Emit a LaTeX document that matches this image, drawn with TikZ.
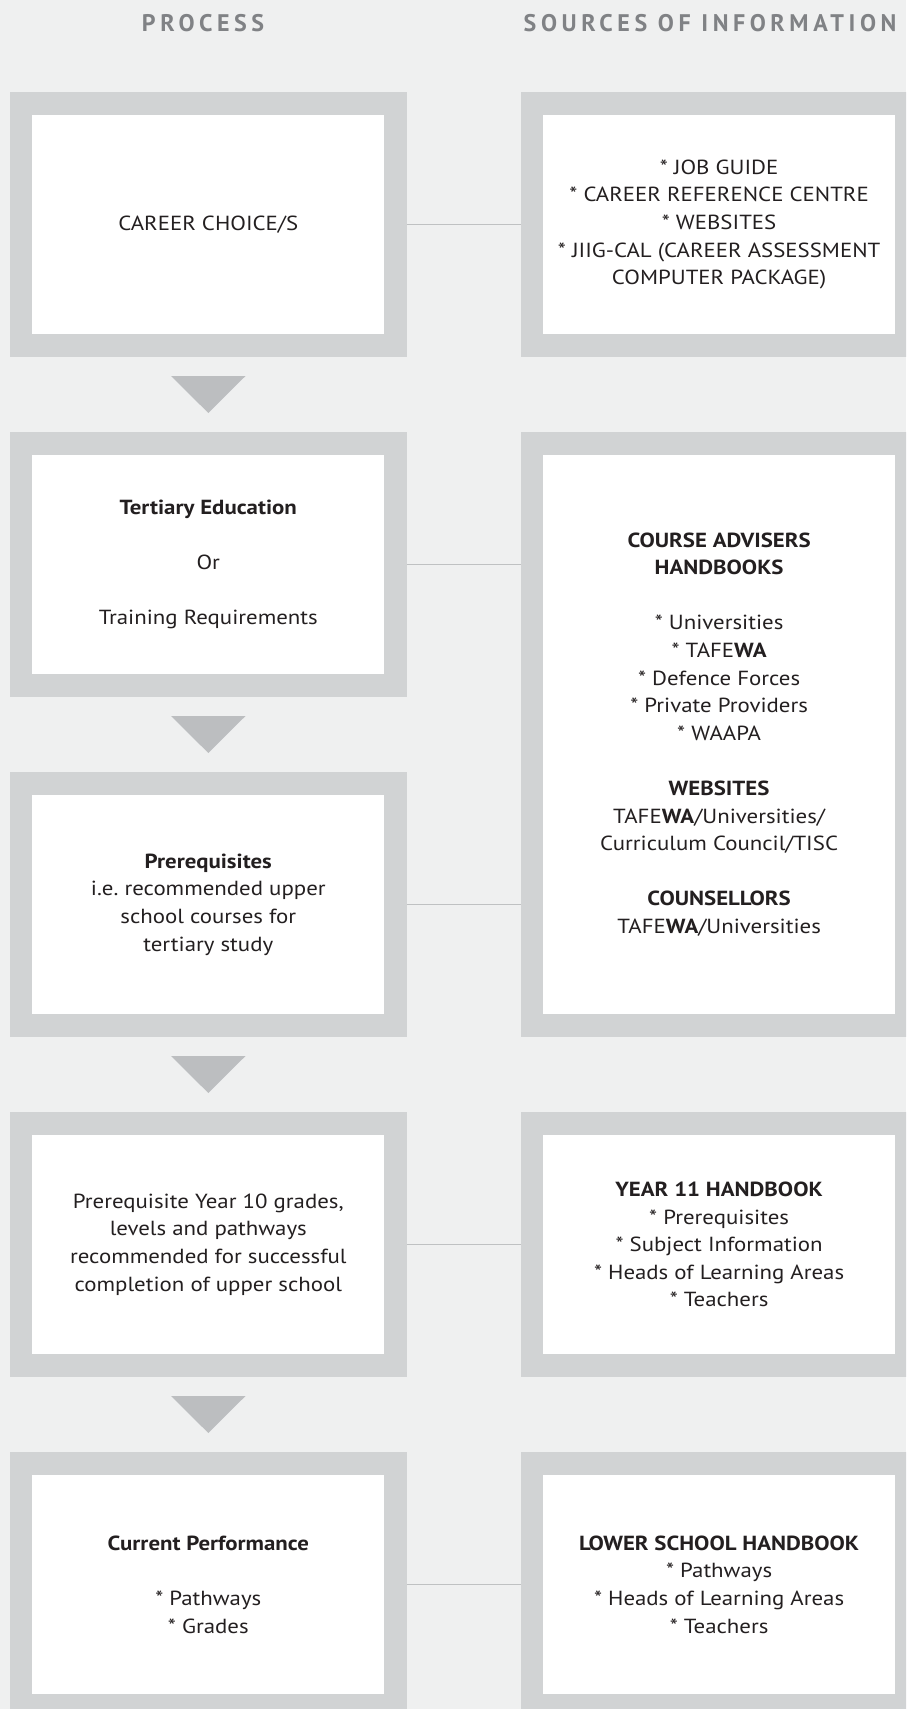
\documentclass[tikz,border=0pt]{standalone}
\usepackage{fontspec}
\setmainfont[FakeStretch=1.12]{PT Sans}
\newfontfamily\headfont[LetterSpace=19]{PT Sans}
\usepackage{xcolor}
\definecolor{pagebg}{HTML}{EFF0F0}
\definecolor{framegray}{HTML}{D1D3D4}
\definecolor{arrowgray}{HTML}{BCBEC0}
\definecolor{linkgray}{HTML}{BFC1C2}
\definecolor{headgray}{HTML}{808285}
\definecolor{inkdark}{HTML}{231F20}
\usepackage{tikz}
\usetikzlibrary{positioning,calc}

\begin{document}
\begin{tikzpicture}[
    font=\fontsize{10.2}{13.8}\selectfont,
    box/.style={draw=framegray, fill=white, line width=11.25pt, outer sep=5.625pt,
                minimum width=187.25pt, minimum height=120.95pt, inner sep=0pt,
                align=center, text=inkdark},
    head/.style={font=\headfont\bfseries\fontsize{12}{14}\selectfont, text=headgray,
                 inner sep=0pt, outer sep=0pt},
    link/.style={draw=linkgray, line width=0.75pt},
    tri/.style={fill=arrowgray}]
  \path[use as bounding box, fill=pagebg] (0,0) rectangle (453pt,-854.5pt);
  \clip (0,0) rectangle (453pt,-854.5pt);

  \node[box] (career) at (104.15pt,-112.25pt) {CAREER CHOICE/S};
  \node[box, below=37.8pt of career] (tertiary)
    {\textbf{Tertiary Education}\\[13.8pt]Or\\[13.8pt]Training Requirements};
  \node[box, below=37.8pt of tertiary] (prereq)
    {\textbf{Prerequisites}\\i.e.\ recommended upper\\school courses for\\tertiary study};
  \node[box, below=37.8pt of prereq] (grades)
    {Prerequisite Year 10 grades,\\levels and pathways\\recommended for successful\\completion of upper school};
  \node[box, below=37.8pt of grades] (current)
    {\textbf{Current Performance}\\[13.8pt]* Pathways\\* Grades};

  \node[box, right=56.9pt of career] (jobguide)
    {* JOB GUIDE\\* CAREER REFERENCE CENTRE\\* WEBSITES\\* JIIG-CAL (CAREER ASSESSMENT\\COMPUTER PACKAGE)};
  \node[box, minimum height=290.95pt, anchor=north west] (advisers)
    at ([xshift=56.9pt]tertiary.north east)
    {\textbf{COURSE ADVISERS}\\\textbf{HANDBOOKS}\\[13.8pt]* Universities\\* TAFE\textbf{WA}\\
     * Defence Forces\\* Private Providers\\* WAAPA\\[13.8pt]\textbf{WEBSITES}\\
     TAFE\textbf{WA}/Universities/\\Curriculum Council/TISC\\[13.8pt]\textbf{COUNSELLORS}\\
     TAFE\textbf{WA}/Universities};
  \node[box, right=56.9pt of grades] (year11)
    {\textbf{YEAR 11 HANDBOOK}\\* Prerequisites\\* Subject Information\\* Heads of Learning Areas\\* Teachers};
  \node[box, right=56.9pt of current] (lowerschool)
    {\textbf{LOWER SCHOOL HANDBOOK}\\* Pathways\\* Heads of Learning Areas\\* Teachers};

  \node[head, above=30pt of career, xshift=-2.6pt] (hprocess) {PROCESS};
  \node[head, above=30pt of jobguide, xshift=-4.5pt] (hsources) {SOURCES OF INFORMATION};

  \draw[link] (career) -- (jobguide);
  \draw[link] (tertiary.east) -- (tertiary.east -| advisers.west);
  \draw[link] (prereq.east) -- (prereq.east -| advisers.west);
  \draw[link] (grades) -- (year11);
  \draw[link] (current) -- (lowerschool);

  \foreach \a/\b in {career/tertiary, tertiary/prereq, prereq/grades, grades/current}
    \fill[tri] ($(\a.south)!.5!(\b.north)$) +(-18.6pt,9.25pt) -- +(18.6pt,9.25pt) -- +(0,-9.25pt) -- cycle;
\end{tikzpicture}
\end{document}
